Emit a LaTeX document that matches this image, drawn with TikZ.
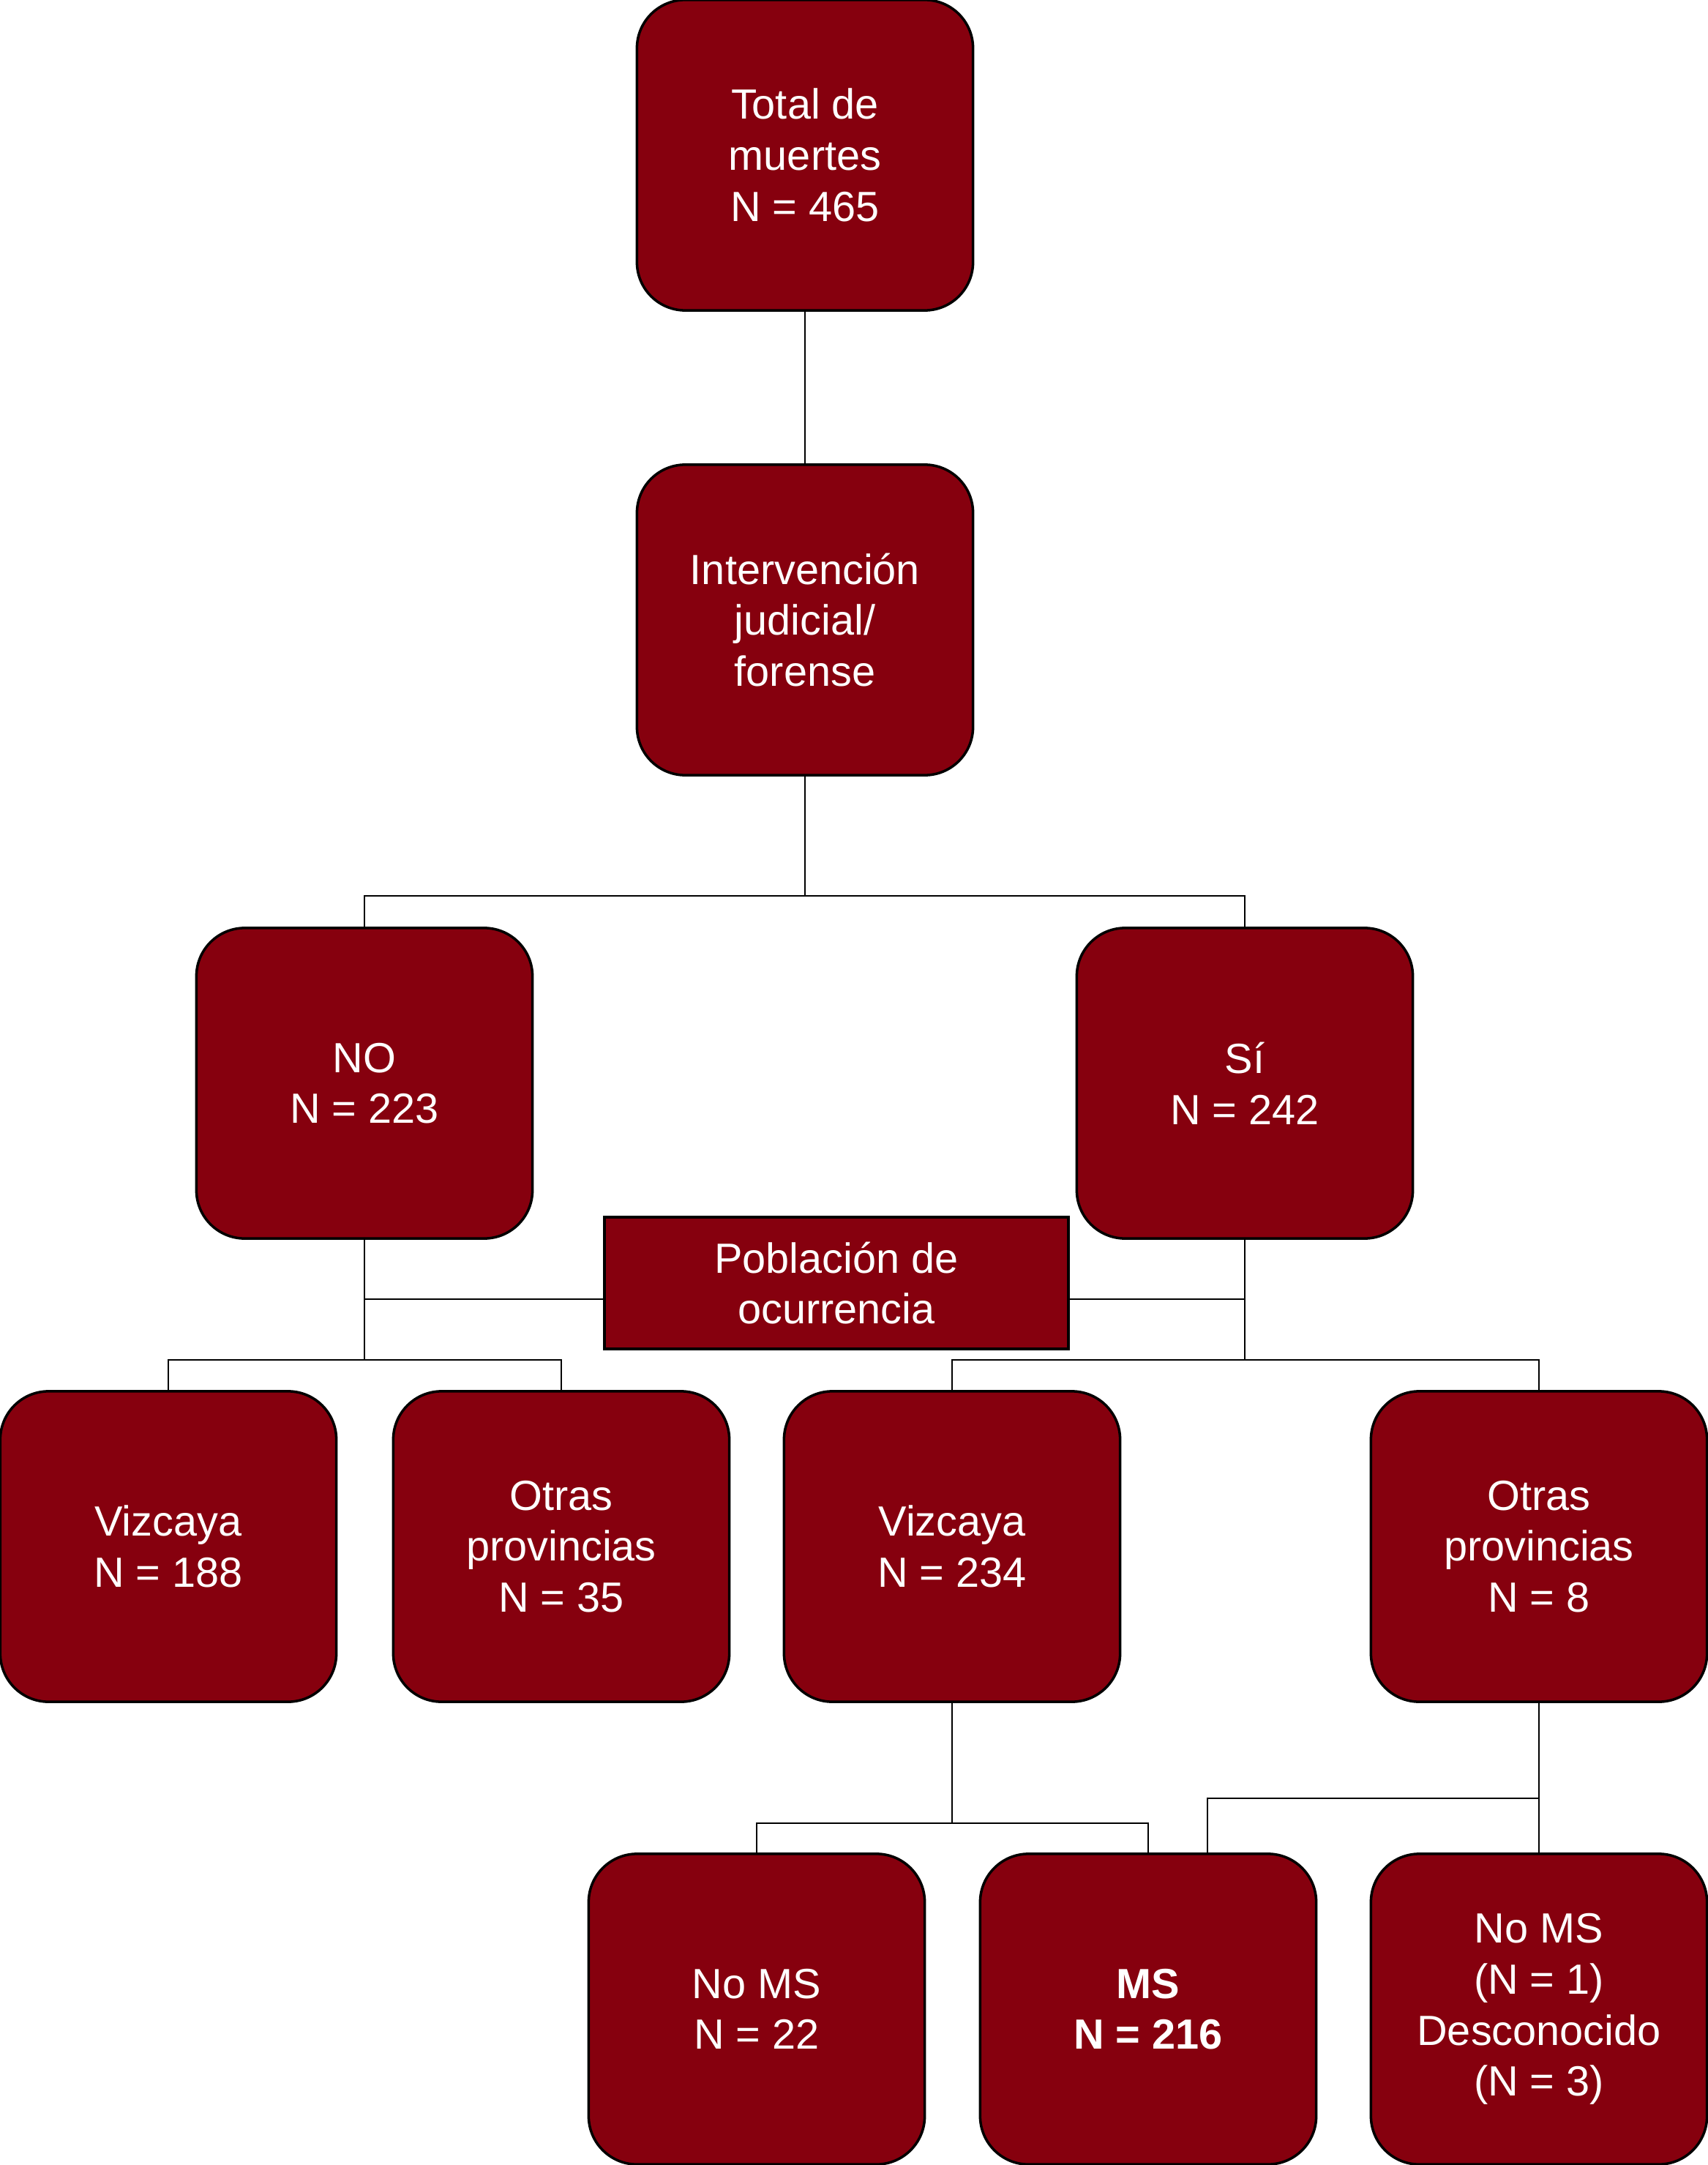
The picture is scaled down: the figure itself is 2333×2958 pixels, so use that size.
\documentclass[tikz,border=0pt]{standalone}
\usepackage{fontspec}
\setmainfont{Liberation Sans}
\usetikzlibrary{calc}
\definecolor{boxred}{RGB}{134,0,14}
\begin{document}
\begin{tikzpicture}[x=0.01cm,y=-0.01cm,
  box/.style={draw=black,line width=1pt,fill=boxred,rounded corners=0.66cm,
    minimum width=4.59cm,minimum height=4.24cm,inner sep=0pt,align=center,
    text=white,font=\fontsize{16.4}{19.8}\selectfont},
  rectbox/.style={draw=black,line width=1pt,fill=boxred,
    minimum width=6.34cm,minimum height=1.80cm,inner sep=0pt,align=center,
    text=white,font=\fontsize{16.4}{19.8}\selectfont},
  conn/.style={draw=black,line width=0.8pt}]
\useasboundingbox (0,0) rectangle (2333,2958);
% junction coordinates
\coordinate (j1) at (1100,1224);
\coordinate (j2) at (498,1858);
\coordinate (j3) at (1701,1858);
\coordinate (j4) at (1301,2491);
\coordinate (j5) at (2103,2457);
\coordinate (ly) at (0,1775);
\coordinate (msr) at (1650,2533);
% nodes
\node[box] (tot) at (1100,212) {Total de\\muertes\\N = 465};
\node[box] (int) at (1100,847) {Intervención\\judicial/\\forense};
\node[box] (no) at (498,1480) {NO\\N = 223};
\node[box] (si) at (1701,1480) {Sí\\N = 242};
\node[rectbox] (pob) at (1143,1753) {Población de\\ocurrencia};
\node[box] (v1) at (230,2113) {Vizcaya\\N = 188};
\node[box] (o1) at (767,2113) {Otras\\provincias\\N = 35};
\node[box] (v2) at (1301,2113) {Vizcaya\\N = 234};
\node[box] (o2) at (2103,2113) {Otras\\provincias\\N = 8};
\node[box] (nms) at (1034,2745) {No MS\\N = 22};
\node[box] (ms) at (1569,2745) {\textbf{MS}\\\textbf{N = 216}};
\node[box] (nms2) at (2103,2745) {No MS\\(N = 1)\\Desconocido\\(N = 3)};
% lines
\draw[conn] (tot.south) -- (int.north);
\draw[conn] (int.south) -- (j1);
\draw[conn] (no.north) |- (j1) -| (si.north);
\draw[conn] (no.south) -- (j2);
\draw[conn] (v1.north) |- (j2) -| (o1.north);
\draw[conn] (no.south |- ly) -- (pob.west |- ly);
\draw[conn] (pob.east |- ly) -- (si.south |- ly);
\draw[conn] (si.south) -- (j3);
\draw[conn] (v2.north) |- (j3) -| (o2.north);
\draw[conn] (v2.south) -- (j4);
\draw[conn] (nms.north) |- (j4) -| (ms.north);
\draw[conn] (o2.south) -- (nms2.north);
\draw[conn] (j5) -| (msr);
\end{tikzpicture}
\end{document}
